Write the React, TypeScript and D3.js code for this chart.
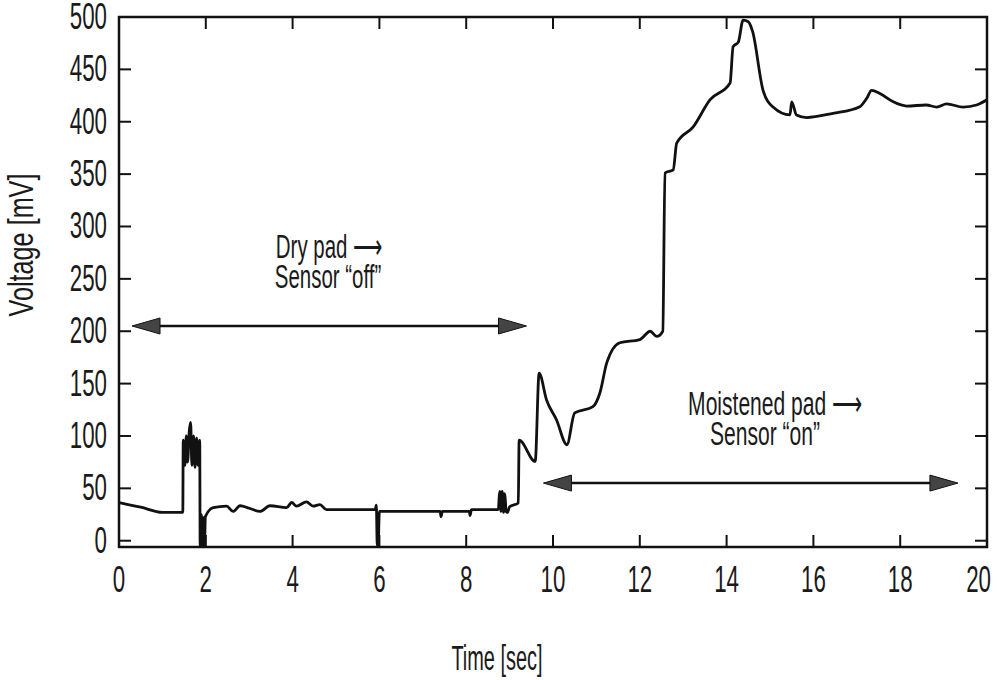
import { useEffect, useRef } from 'react';
import * as d3 from 'd3';

const timeS = [
  0, 0.5, 1.0, 1.47, 1.48, 1.52, 1.55, 1.58, 1.62, 1.65, 1.68, 1.72, 1.75, 1.79, 1.82, 1.86,
  1.87, 1.9, 1.92, 1.95, 1.97, 1.99, 2.17, 2.48, 2.63, 2.79, 3.0, 3.25, 3.48, 3.86, 3.98,
  4.09, 4.32, 4.47, 4.63, 4.78, 5.9, 5.93, 5.95, 5.97, 6.0, 7.4, 7.42, 7.45, 8.07, 8.09,
  8.12, 8.74, 8.77, 8.8, 8.83, 8.86, 8.89, 8.92, 8.95, 9.0, 9.2, 9.22, 9.59, 9.68, 9.85,
  10.08, 10.32, 10.5, 10.92, 11.08, 11.24, 11.54, 12.0, 12.24, 12.39, 12.53, 12.58, 12.77,
  12.85, 13.23, 13.62, 14.08, 14.15, 14.27, 14.38, 14.5, 14.6, 14.84, 15.07, 15.46, 15.5,
  15.61, 15.84, 16.45, 17.07, 17.23, 17.34, 17.53, 17.84, 18.15, 18.6, 18.84, 19.07, 19.45,
  19.76, 20.0,
];
const voltageMV = [
  36.5, 32, 27, 27, 96, 72, 100, 75, 105, 113, 72, 100, 70, 98, 72, 96,
  -5, 25, -5, 22, -5, 23, 31.5, 33, 28, 33.4, 31, 28, 33.4, 31.5, 36.5,
  33, 37, 33, 34.5, 29.6, 29.6, 34, -5, -5, 28, 28, 23, 28, 28, 24,
  29.6, 29.6, 47, 28, 47, 27, 45, 28, 27, 32.4, 36, 96, 75.7, 160, 134.5,
  115.5, 91.6, 122, 128, 141, 170, 189, 192, 200, 195, 200, 351, 354,
  379.5, 395, 421, 437, 471.7, 476, 497, 495.5, 486, 430, 414, 406.5, 419,
  406.5, 404, 408, 414.4, 422.4, 430, 427, 419, 415, 416, 414, 417, 414,
  416, 421,
];

const xTicks = [0, 2, 4, 6, 8, 10, 12, 14, 16, 18, 20];
const yTicks = [0, 50, 100, 150, 200, 250, 300, 350, 400, 450, 500];

// double-headed arrows: [start time, end time, level mV]
const arrowStart = [0.3, 9.78];
const arrowEnd   = [9.39, 19.33];
const arrowLevel = [205, 55];

const dryLabel   = ['Dry pad \u27f6', 'Sensor \u201coff\u201d'];
const moistLabel = ['Moistened pad \u27f6', 'Sensor \u201con\u201d'];

const W = 997;
const H = 680;

export default function App() {
  const ref = useRef<SVGSVGElement>(null);

  useEffect(() => {
    if (!ref.current) return;
    const svg = d3.select(ref.current);
    svg.selectAll('*').remove();

    const x = d3.scaleLinear().domain([0, 20]).range([119, 987]);
    const y = d3.scaleLinear().domain([-6, 500]).range([547, 17]);
    const ink = '#111';
    const font = '"Liberation Sans", Arial, sans-serif';

    // narrow lettering: squeeze regular glyphs horizontally
    const text = (px: number, py: number, s: string, size: number, anchor: string, sq = 0.62, rot = 0) => {
      svg.append('g')
        .attr('transform', `translate(${px},${py}) rotate(${rot}) scale(${sq},1)`)
        .append('text')
        .attr('text-anchor', anchor)
        .attr('font-family', font)
        .attr('font-size', size)
        .attr('fill', '#1a1a1a')
        .text(s);
    };

    // frame
    svg.append('rect')
      .attr('x', x(0)).attr('y', y(500))
      .attr('width', x(20) - x(0)).attr('height', y(-6) - y(500))
      .attr('fill', 'none').attr('stroke', ink).attr('stroke-width', 2.5);

    // inward ticks on all four sides
    const tl = 12;
    xTicks.slice(1, -1).forEach(t => {
      svg.append('line').attr('x1', x(t)).attr('x2', x(t)).attr('y1', y(-6)).attr('y2', y(-6) - tl)
        .attr('stroke', ink).attr('stroke-width', 2);
      svg.append('line').attr('x1', x(t)).attr('x2', x(t)).attr('y1', y(500)).attr('y2', y(500) + tl)
        .attr('stroke', ink).attr('stroke-width', 2);
    });
    yTicks.slice(0, -1).forEach(t => {
      svg.append('line').attr('x1', x(0)).attr('x2', x(0) + tl).attr('y1', y(t)).attr('y2', y(t))
        .attr('stroke', ink).attr('stroke-width', 2);
      svg.append('line').attr('x1', x(20)).attr('x2', x(20) - tl).attr('y1', y(t)).attr('y2', y(t))
        .attr('stroke', ink).attr('stroke-width', 2);
    });

    // tick labels (last one pulled in so it is not clipped)
    xTicks.forEach((t, i) => {
      if (i === xTicks.length - 1) text(991, 592, String(t), 36, 'end');
      else text(x(t), 592, String(t), 36, 'middle');
    });
    yTicks.forEach(t => text(107, y(t) + 12, String(t), 36, 'end'));

    // axis titles
    text(497, 670, 'Time [sec]', 35, 'middle', 0.57);
    text(33, 245, 'Voltage [mV]', 35, 'middle', 0.72, -90);

    // trace
    const pts = timeS.map((t, i) => [t, voltageMV[i]] as [number, number]);
    const line = d3.line<[number, number]>()
      .x(d => x(d[0]))
      .y(d => y(d[1]))
      .curve(d3.curveMonotoneX);
    svg.append('path')
      .datum(pts)
      .attr('fill', 'none')
      .attr('stroke', ink)
      .attr('stroke-width', 2.8)
      .attr('stroke-linejoin', 'round')
      .attr('d', line);

    // arrows
    const headL = 28, headW = 8;
    arrowStart.forEach((s, i) => {
      const x0 = x(s), x1 = x(arrowEnd[i]), yy = y(arrowLevel[i]);
      svg.append('line').attr('x1', x0 + headL - 2).attr('x2', x1 - headL + 2).attr('y1', yy).attr('y2', yy)
        .attr('stroke', ink).attr('stroke-width', 2.5);
      svg.append('path')
        .attr('d', `M${x0},${yy} L${x0 + headL},${yy - headW} L${x0 + headL},${yy + headW} Z`)
        .attr('fill', '#444').attr('stroke', ink).attr('stroke-width', 1);
      svg.append('path')
        .attr('d', `M${x1},${yy} L${x1 - headL},${yy - headW} L${x1 - headL},${yy + headW} Z`)
        .attr('fill', '#444').attr('stroke', ink).attr('stroke-width', 1);
    });

    // annotations
    text(329, 258, dryLabel[0], 33, 'middle');
    text(328, 288, dryLabel[1], 33, 'middle');
    text(775, 415, moistLabel[0], 34, 'middle');
    text(765, 445, moistLabel[1], 34, 'middle');
  }, []);

  return (
    <div style={{ position: 'fixed', left: 0, top: 0, background: '#fff' }}>
      <svg ref={ref} width={W} height={H} />
    </div>
  );
}
